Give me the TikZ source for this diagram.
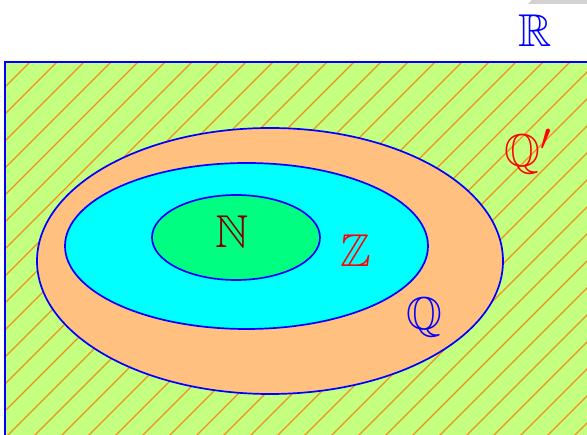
\documentclass[tikz,border=0pt]{standalone}
\usepackage{amssymb}
\definecolor{rgreen}{RGB}{196,255,128}
\definecolor{hatch}{RGB}{240,145,30}
\definecolor{qfill}{RGB}{255,192,128}
\definecolor{zfill}{RGB}{0,255,255}
\definecolor{nfill}{RGB}{0,255,128}
\definecolor{nlab}{RGB}{128,0,0}
\begin{document}
\begin{tikzpicture}[x=1pt,y=-1pt,
  setline/.style={draw=blue,line width=1.7pt},
  setlab/.style={inner sep=0pt,anchor=base,scale=1.85,font=\Huge}]
\useasboundingbox (0,0) rectangle (587,435);
% gray artifact top right
\fill[gray!35] (532,0) -- (587,0) -- (587,4) -- (528,4) -- cycle;
% R region
\fill[rgreen] (5,62) rectangle (590,440);
\begin{scope}
  \clip (5,62) rectangle (590,440);
  \foreach \k in {0,...,40} {
    \draw[hatch,line width=1.2pt] ({11+27*\k},0) -- ({11+27*\k-500},500);
  }
\end{scope}
\draw[setline] (590,62) -- (5,62) -- (5,440);
% Q
\path[setline,fill=qfill] (270,261) ellipse [x radius=233, y radius=133];
% Z
\path[setline,fill=zfill] (246.5,246) ellipse [x radius=181.5, y radius=83];
% N
\path[setline,fill=nfill] (236,237.5) ellipse [x radius=84, y radius=42.5];
% labels
\node[setlab,text=blue] (lR) at (535,47) {$\mathbb{R}$};
\node[setlab,text=red] (lQp) at (528,167) {$\mathbb{Q}'$};
\node[setlab,text=blue] (lQ) at (424,330) {$\mathbb{Q}$};
\node[setlab,text=red] (lZ) at (356,267) {$\mathbb{Z}$};
\node[setlab,text=nlab] (lN) at (232,248) {$\mathbb{N}$};
\end{tikzpicture}
\end{document}
